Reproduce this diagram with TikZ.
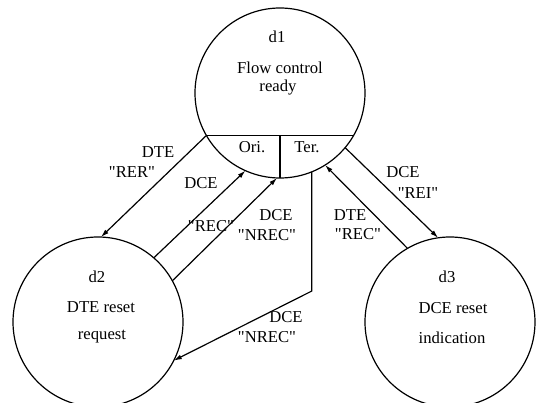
\documentclass[tikz,border=0pt]{standalone}
\usepackage{fontspec}
\setmainfont{Liberation Serif}
\newfontfamily\plainq{Liberation Serif}[Ligatures=ResetAll]
\usetikzlibrary{arrows.meta}
\newcommand{\qt}[1]{{\plainq\symbol{34}}#1{\plainq\symbol{34}}}
\begin{document}
\begin{tikzpicture}[x=0.75pt,y=-0.75pt,
  state/.style={circle,draw,line width=0.9pt,minimum size=127.5pt,inner sep=0pt,outer sep=0pt},
  lbl/.style={inner sep=0pt,font=\fontsize{12.5}{14}\selectfont},
  conn/.style={line width=0.9pt,-{Latex[length=6pt,width=3.6pt]}},
  plain/.style={line width=0.9pt}]
\useasboundingbox (0,0) rectangle (537,403);
% states
\node[state] (d1) at (280,93) {};
\node[state] (d2) at (98,322) {};
\node[state] (d3) at (450,322) {};
% d1 texts and partition
\node[lbl] (d1n) at (277,37) {d1};
\node[lbl] (d1a) at (280,68) {Flow control};
\node[lbl] (d1b) at (278,88) {ready};
\draw[plain] (d1.210) -- (d1.330);
\draw[plain] (d1.270) -- (d1.270 |- d1.210);
\node[lbl] (ori) at (252,147) {Ori.};
\node[lbl] (ter) at (307,147) {Ter.};
% d2 texts
\node[lbl] (d2n) at (97,277) {d2};
\node[lbl] (d2a) at (101,307) {DTE reset};
\node[lbl] (d2b) at (102,337) {request};
% d3 texts
\node[lbl] (d3n) at (447,277) {d3};
\node[lbl] (d3a) at (453,308) {DCE reset};
\node[lbl] (d3b) at (452,338) {indication};
% connectors
\draw[conn] (d1.210) -- (d2.88);
\node[lbl] (l1a) at (158,152) {DTE};
\node[lbl] (l1b) at (132,172) {\qt{RER}};
\draw[conn] (d2.49) -- (d1.246);
\node[lbl] (l2a) at (201,183) {DCE};
\node[lbl] (l2b) at (211,226) {\qt{REC}};
\draw[conn] (d2.29) -- (d1.268);
\node[lbl] (l3a) at (276,215) {DCE};
\node[lbl] (l3b) at (267,235) {\qt{NREC}};
\coordinate (k) at (312,291);
\draw[conn] (d1.292) -- (d1.292 |- k) -- (d2.333);
\node[lbl] (l4a) at (286,317) {DCE};
\node[lbl] (l4b) at (267,337) {\qt{NREC}};
\draw[conn] (d1.320) -- (d3.98);
\node[lbl] (l5a) at (403,172) {DCE};
\node[lbl] (l5b) at (418,193) {\qt{REI}};
\draw[conn] (d3.120) -- (d1.302);
\node[lbl] (l6a) at (350,215) {DTE};
\node[lbl] (l6b) at (358,234) {\qt{REC}};
\end{tikzpicture}
\end{document}
